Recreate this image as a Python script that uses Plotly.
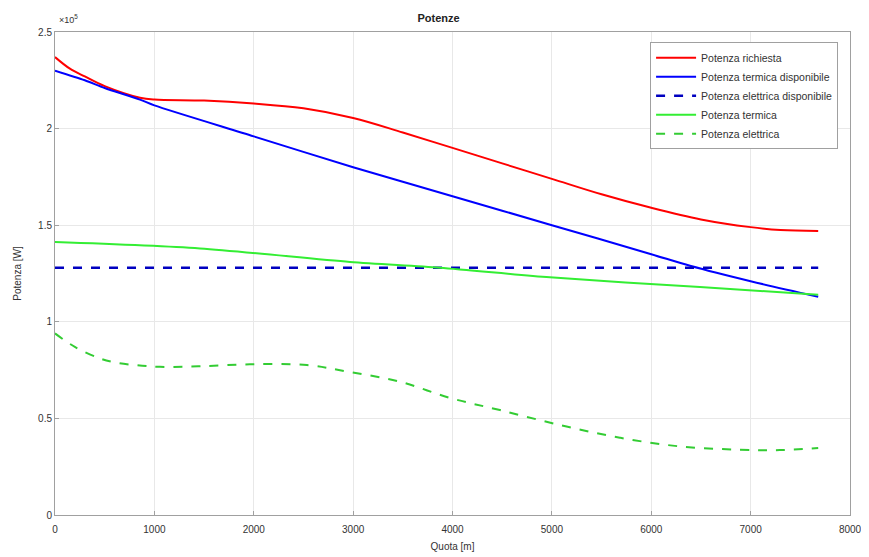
import plotly.graph_objects as go

# Quota [m]
x_req = [0, 150, 300, 500, 855, 1000, 1500, 2000, 2500, 3000, 3500, 4000, 4500, 5000, 5500, 6000, 6500, 7000, 7300, 7680]
p_richiesta = [2.37e5, 2.31e5, 2.27e5, 2.22e5, 2.16e5, 2.15e5, 2.145e5, 2.13e5, 2.105e5, 2.055e5, 1.98e5, 1.90e5, 1.82e5,
               1.74e5, 1.66e5, 1.59e5, 1.53e5, 1.49e5, 1.475e5, 1.47e5]

x_td = [0, 300, 500, 855, 1000, 2000, 3000, 4000, 5000, 6000, 6390, 7000, 7680]
p_term_disp = [2.30e5, 2.25e5, 2.21e5, 2.15e5, 2.12e5, 1.96e5, 1.80e5, 1.65e5, 1.50e5, 1.35e5, 1.29e5, 1.21e5, 1.13e5]

x_ed = [0, 7680]
p_el_disp = [1.28e5, 1.28e5]

x_t = [0, 1459, 2968, 3873, 4980, 6490, 7680]
p_termica = [1.413e5, 1.38e5, 1.31e5, 1.28e5, 1.23e5, 1.18e5, 1.14e5]

x_e = [0, 200, 453, 600, 805, 1056, 1459, 1962, 2535, 2968, 3470, 3974, 4477, 5080, 5684, 6288, 6891, 7294, 7680]
p_elettrica = [0.94e5, 0.87e5, 0.81e5, 0.79e5, 0.776e5, 0.767e5, 0.77e5, 0.78e5, 0.776e5, 0.74e5, 0.69e5, 0.606e5, 0.543e5,
               0.466e5, 0.40e5, 0.355e5, 0.338e5, 0.336e5, 0.347e5]

x_ticks = [0, 1000, 2000, 3000, 4000, 5000, 6000, 7000, 8000]
y_ticks = [0, 0.5e5, 1e5, 1.5e5, 2e5, 2.5e5]
y_ticktext = ["0", "0.5", "1", "1.5", "2", "2.5"]

fig = go.Figure()
fig.add_trace(go.Scatter(x=x_req, y=p_richiesta, mode="lines", name="Potenza richiesta",
                         line=dict(color="#ff0000", width=2, shape="spline", smoothing=1.0)))
fig.add_trace(go.Scatter(x=x_td, y=p_term_disp, mode="lines", name="Potenza termica disponibile",
                         line=dict(color="#0000ff", width=2, shape="spline", smoothing=0.8)))
fig.add_trace(go.Scatter(x=x_ed, y=p_el_disp, mode="lines", name="Potenza elettrica disponibile",
                         line=dict(color="#0000c0", width=2.5, dash="9px,9px")))
fig.add_trace(go.Scatter(x=x_t, y=p_termica, mode="lines", name="Potenza termica",
                         line=dict(color="#33ee33", width=2, shape="spline", smoothing=0.8)))
fig.add_trace(go.Scatter(x=x_e, y=p_elettrica, mode="lines", name="Potenza elettrica",
                         line=dict(color="#33cc33", width=2, dash="9px,9px", shape="spline", smoothing=1.0)))

axis_common = dict(showgrid=True, gridcolor="#e8e8e8", gridwidth=1, zeroline=False,
                   showline=True, linecolor="#a0a0a0", linewidth=1, mirror=True,
                   ticks="inside", ticklen=4, tickcolor="#a0a0a0", automargin=False,
                   tickfont=dict(family="Liberation Sans, Arial", size=10, color="#333333"))

# page body has an 8px default margin, so the paper is shrunk and margins offset
fig.update_layout(
    width=861, height=549,
    margin=dict(l=47, r=19, t=24, b=42),
    paper_bgcolor="white", plot_bgcolor="white",
    title=dict(text="<b>Potenze</b>", x=0.5, xanchor="center", y=0.982, yanchor="middle",
               automargin=False,
               font=dict(family="Liberation Sans, Arial", size=11, color="#222222")),
    xaxis=dict(range=[0, 8000], tickvals=x_ticks, ticklabelstandoff=5,
               title=dict(text="Quota [m]", standoff=8,
                          font=dict(family="Liberation Sans, Arial", size=10, color="#333333")),
               **axis_common),
    yaxis=dict(range=[0, 2.5e5], tickvals=y_ticks, ticktext=y_ticktext,
               title=dict(text="Potenza [W]", standoff=14,
                          font=dict(family="Liberation Sans, Arial", size=10, color="#333333")),
               **axis_common),
    legend=dict(x=0.985, xanchor="right", y=0.979, yanchor="top",
                bgcolor="white", bordercolor="#a0a0a0", borderwidth=1,
                font=dict(family="Liberation Sans, Arial", size=10.5, color="#333333"),
                tracegroupgap=0, itemwidth=40),
    showlegend=True,
)

fig.add_annotation(xref="paper", yref="paper", x=0.003, y=1.01, xanchor="left", yanchor="bottom",
                   text="×10<sup>5</sup>", showarrow=False,
                   font=dict(family="Liberation Sans, Arial", size=9, color="#333333"))

fig.write_html("out.html")
